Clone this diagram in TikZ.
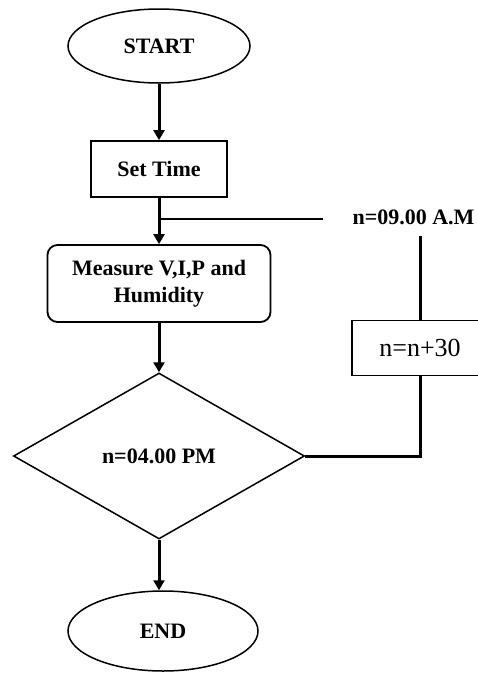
\documentclass[tikz,border=0pt]{standalone}
\usepackage{fontspec}
\setmainfont{Liberation Serif}
\usepackage{tikz}
\usetikzlibrary{arrows.meta,positioning,calc,shapes.geometric}
\tikzstyle{terminal}=[draw,ellipse,line width=1.5pt,inner sep=0pt,font=\fontsize{22}{26}\selectfont\bfseries]
\tikzstyle{process}=[draw,rectangle,line width=1.8pt,inner sep=0pt,font=\fontsize{22}{27}\selectfont\bfseries]
\tikzstyle{decision}=[draw,diamond,line width=1.5pt,inner sep=0pt,font=\fontsize{22}{26}\selectfont\bfseries]
\tikzstyle{flow}=[line width=3pt,-{Triangle[length=10pt,width=11pt]}]
\tikzstyle{link}=[line width=3pt]

\begin{document}
\begin{tikzpicture}[x=1pt,y=-1pt]
\useasboundingbox (0,0) rectangle (477,675);
\node [terminal, minimum width=182pt, minimum height=74pt] (start) at (159,46) {START};
\node [process, minimum width=136pt, minimum height=56pt] (settime) at (159,169) {Set Time};
\node [process, rounded corners=10pt, minimum width=223pt, minimum height=77pt, align=center] (measure) at (159,283.5) {Measure V,I,P and\\Humidity};
\node [decision, minimum width=291pt, minimum height=166pt] (check) at (159,456) {n=04.00 PM};
\node [terminal, minimum width=190pt, minimum height=80pt] (finish) at (163,631) {END};
\node [font=\fontsize{22}{26}\selectfont\bfseries, inner xsep=29pt, inner ysep=7pt, text height=15pt, text depth=5pt] (startat) at (413.5,219) {n=09.00 A.M};
\node [process, font=\fontsize{26}{30}\selectfont, minimum width=136pt, minimum height=55pt] (incr) at (420,348) {n=n+30};
\coordinate (fork) at (159,219);

\draw [flow] (start) -- (settime);
\draw [flow] (settime) -- (measure);
\draw [line width=2.5pt] (fork) -- (startat.west);
\draw [link] (startat.south -| incr) -- (incr);
\draw [link] (incr) |- (check);
\draw [flow] (measure) -- (check);
\draw [flow] (check) -- (check |- finish.north);
\end{tikzpicture}
\end{document}
